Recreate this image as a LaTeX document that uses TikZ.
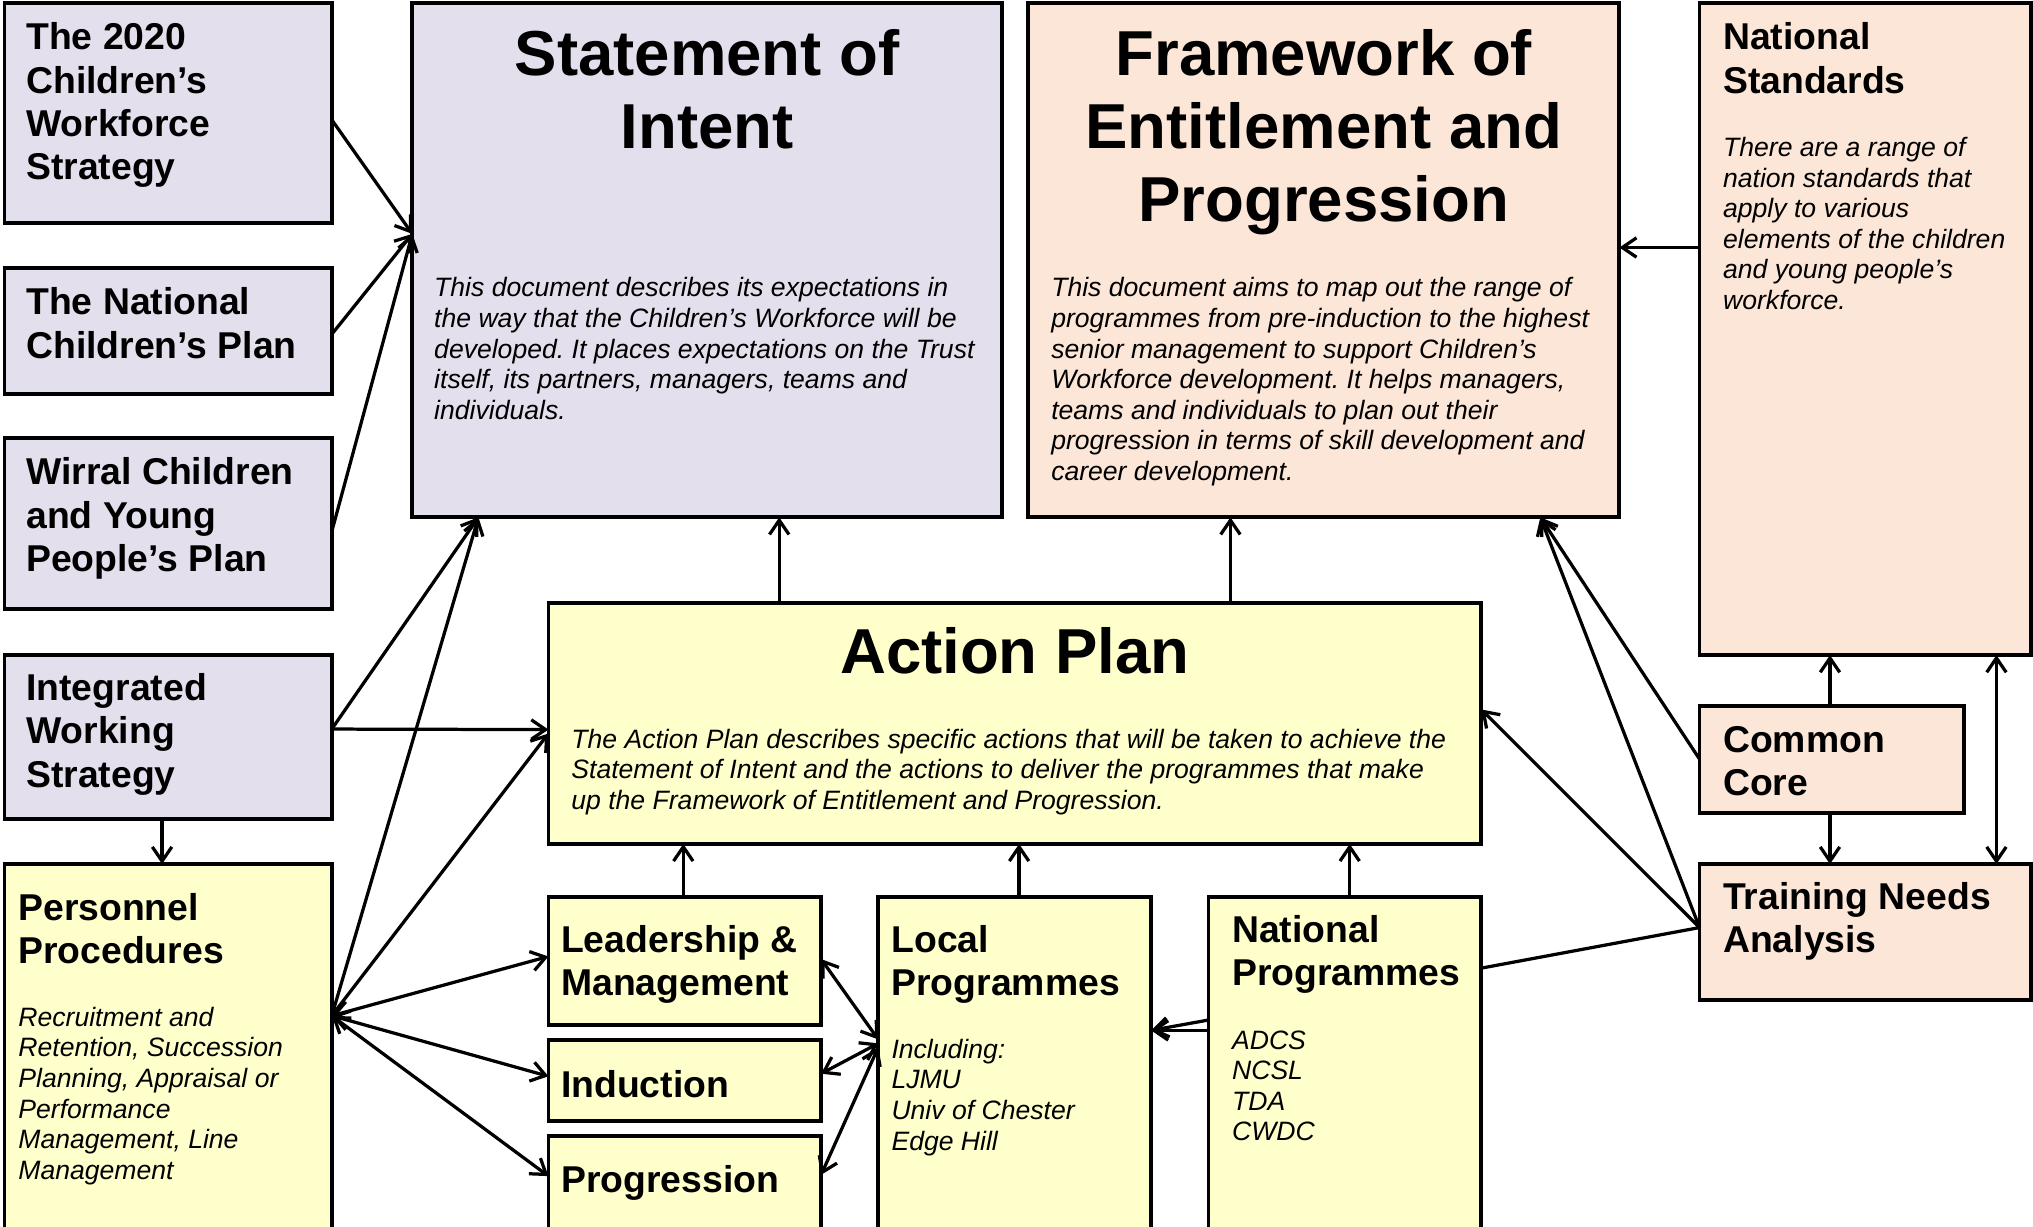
\documentclass[tikz,border=0pt]{standalone}
\usepackage{fontspec}
\setmainfont{Liberation Sans}
\usetikzlibrary{arrows.meta,calc}
\definecolor{lav}{HTML}{E4DFEC}
\definecolor{peach}{HTML}{FCE6D8}
\definecolor{ylw}{HTML}{FFFFCC}
\frenchspacing
\begin{document}
\begin{tikzpicture}[x=1pt,y=-1pt,
  box/.style={draw=black, line width=3pt, anchor=north west, inner sep=0pt, outer sep=0pt},
  conn/.style={line width=2.5pt, -{Straight Barb[length=11pt,width=15pt]}},
  conntwo/.style={line width=2.5pt, {Straight Barb[length=11pt,width=15pt]}-{Straight Barb[length=11pt,width=15pt]}},
  plainline/.style={line width=2.5pt},
  hd/.style={anchor=north west, inner sep=0pt, align=left, font=\fontsize{28.8}{33.5}\selectfont\bfseries},
  ttl/.style={anchor=north, inner sep=0pt, align=center, font=\fontsize{49}{56.5}\selectfont\bfseries},
  bd/.style={anchor=north west, inner sep=0pt, align=left, font=\fontsize{20.5}{23.6}\selectfont\itshape},
]
\useasboundingbox (0,0) rectangle (1568,946);
\clip (0,0) rectangle (1568,946);
\fill[white] (0,0) rectangle (1568,946);

% boxes
\node[box, fill=lav, minimum width=252.4pt, minimum height=169.9pt] (b2020) at (3.5,2.4) {};
\node[box, fill=lav, minimum width=252.4pt, minimum height=97.2pt] (bncp) at (3.5,206.8) {};
\node[box, fill=lav, minimum width=252.4pt, minimum height=131.8pt] (bwirral) at (3.5,337.9) {};
\node[box, fill=lav, minimum width=252.4pt, minimum height=126.2pt] (biws) at (3.5,505.3) {};
\node[box, fill=ylw, minimum width=252.4pt, minimum height=283.6pt] (bpers) at (3.5,666.4) {};
\node[box, fill=lav, minimum width=454.8pt, minimum height=396.6pt] (bsoi) at (318,2.4) {};
\node[box, fill=peach, minimum width=455.9pt, minimum height=396.6pt] (bfw) at (793.1,2.4) {};
\node[box, fill=peach, minimum width=255.6pt, minimum height=502.9pt] (bns) at (1310.8,2.4) {};
\node[box, fill=ylw, minimum width=719.5pt, minimum height=185.7pt] (bap) at (423,465.2) {};
\node[box, fill=ylw, minimum width=210.3pt, minimum height=99pt] (blm) at (423,691.7) {};
\node[box, fill=ylw, minimum width=210.3pt, minimum height=62.3pt] (bind) at (423,802.1) {};
\node[box, fill=ylw, minimum width=210.3pt, minimum height=73.9pt] (bprog) at (423,876.1) {};
\node[box, fill=ylw, minimum width=210.4pt, minimum height=258.3pt] (blp) at (677.4,691.7) {};
\node[box, fill=ylw, minimum width=210.3pt, minimum height=258.3pt] (bnp) at (932.1,691.7) {};
\node[box, fill=peach, minimum width=204.3pt, minimum height=82.7pt] (bcc) at (1310.8,544.5) {};
\node[box, fill=peach, minimum width=255.6pt, minimum height=104.9pt] (btna) at (1310.8,666.4) {};

% texts
\node[hd] (t2020) at (20.1,14.65) {\strut The 2020\\Children’s\\Workforce\\Strategy};
\node[hd] (tncp) at (20.1,219.05) {\strut The National\\Children’s Plan};
\node[hd] (twirral) at (20.1,350.15) {\strut Wirral Children\\and Young\\People’s Plan};
\node[hd] (tiws) at (20.1,516.45) {\strut Integrated\\Working\\Strategy};
\node[hd] (tpers) at (14,686.15) {\strut Personnel\\Procedures};
\node[bd] (tpersb) at (14,774.8) {\strut Recruitment and\\Retention, Succession\\Planning, Appraisal or\\Performance\\Management, Line\\Management};
\node[ttl] (tsoi) at (545.4,18.35) {\strut Statement of\\Intent};
\node[bd] (tsoib) at (334.7,212.2) {\strut This document describes its expectations in\\the way that the Children’s Workforce will be\\developed. It places expectations on the Trust\\itself, its partners, managers, teams and\\individuals.};
\node[ttl] (tfw) at (1021,18.35) {\strut Framework of\\Entitlement and\\Progression};
\node[bd] (tfwb) at (810.6,212.2) {\strut This document aims to map out the range of\\programmes from pre-induction to the highest\\senior management to support Children’s\\Workforce development. It helps managers,\\teams and individuals to plan out their\\progression in terms of skill development and\\career development.};
\node[hd] (tns) at (1328.8,14.65) {\strut National\\Standards};
\node[bd] (tnsb) at (1328.8,104) {\strut There are a range of\\nation standards that\\apply to various\\elements of the children\\and young people’s\\workforce.};
\node[ttl] (tap) at (782.75,479.65) {\strut Action Plan};
\node[bd] (tapb) at (440.5,560.4) {\strut The Action Plan describes specific actions that will be taken to achieve the\\Statement of Intent and the actions to deliver the programmes that make\\up the Framework of Entitlement and Progression.};
\node[hd] (tlm) at (432.6,710.75) {\strut Leadership \&\\Management};
\node[hd] (tind) at (432.6,822.75) {\strut Induction};
\node[hd] (tprog) at (432.6,895.85) {\strut Progression};
\node[hd] (tlp) at (687.4,710.75) {\strut Local\\Programmes};
\node[bd] (tlpb) at (687.4,799.5) {\strut Including:\\LJMU\\Univ of Chester\\Edge Hill};
\node[hd] (tnp) at (950.1,703.05) {\strut National\\Programmes};
\node[bd] (tnpb) at (950.1,792.4) {\strut ADCS\\NCSL\\TDA\\CWDC};
\node[hd] (tcc) at (1328.8,556.55) {\strut Common\\Core};
\node[hd] (ttna) at (1328.8,677.45) {\strut Training Needs\\Analysis};

% connectors
\draw[conn] ($(b2020.north east)+(0,90)$) -- ($(bsoi.north west)+(0,178)$);
\draw[conn] ($(bncp.north east)+(0,51)$) -- ($(bsoi.north west)+(0,178)$);
\draw[conn] ($(bwirral.north east)+(0,72)$) -- ($(bsoi.north west)+(0,178)$);
\draw[conn] ($(biws.north east)+(0,57)$) -- ($(bsoi.south west)+(51,0)$);
\draw[conn] ($(bpers.north east)+(0,117)$) -- ($(bsoi.south west)+(51,0)$);
\draw[conn] ($(biws.north east)+(0,57)$) -- ($(bap.north west)+(0,97.5)$);
\draw[conn] ($(bpers.north east)+(0,117)$) -- ($(bap.north west)+(0,100.5)$);
\draw[conn] ($(biws.south west)+(121.5,0)$) -- ($(bpers.north west)+(121.5,0)$);
\draw[conntwo] ($(bpers.north east)+(0,117)$) -- ($(blm.north west)+(0,46)$);
\draw[conntwo] ($(bpers.north east)+(0,117)$) -- ($(bind.north west)+(0,28)$);
\draw[conntwo] ($(bpers.north east)+(0,117)$) -- ($(bprog.north west)+(0,31)$);
\draw[conn] ($(blm.north west)+(104,0)$) -- ($(bap.south west)+(104,0)$);
\draw[conn] ($(blp.north west)+(108.6,0)$) -- ($(bap.south west)+(363,0)$);
\draw[conn] ($(bnp.north west)+(108.9,0)$) -- ($(bap.south west)+(618,0)$);
\draw[conn] ($(bap.north west)+(178,0)$) -- ($(bsoi.south west)+(283,0)$);
\draw[conn] ($(bap.north west)+(526,0)$) -- ($(bfw.south west)+(155.9,0)$);
\draw[conntwo] ($(blp.north west)+(0,110)$) -- ($(blm.north east)+(0,48)$);
\draw[conntwo] ($(blp.north west)+(0,113)$) -- ($(bind.north east)+(0,26)$);
\draw[conntwo] ($(blp.north west)+(0,116)$) -- ($(bprog.north east)+(0,30)$);
\draw[conn] ($(bnp.north west)+(0,95)$) -- ($(blp.north east)+(0,103)$);
\draw[conn] ($(bnp.north west)+(0,103)$) -- ($(blp.north east)+(0,103)$);
\draw[conn] ($(btna.north west)+(0,49)$) -- ($(bfw.south east)+(-61,0)$);
\draw[conn] ($(bcc.north west)+(0,41)$) -- ($(bfw.south east)+(-61,0)$);
\draw[conn] ($(btna.north west)+(0,49)$) -- ($(bap.north east)+(0,82)$);
\draw[plainline] ($(btna.north west)+(0,49)$) -- ($(bnp.north east)+(0,55)$);
\draw[conn] ($(bcc.north west)+(100.6,0)$) -- ($(bns.south west)+(100.6,0)$);
\draw[conn] ($(bcc.south west)+(100.6,0)$) -- ($(btna.north west)+(100.6,0)$);
\draw[conntwo] ($(bns.south west)+(229,0)$) -- ($(btna.north west)+(229,0)$);
\draw[conn] ($(bns.north west)+(0,188.5)$) -- ($(bfw.north east)+(0,188.5)$);
\end{tikzpicture}
\end{document}
